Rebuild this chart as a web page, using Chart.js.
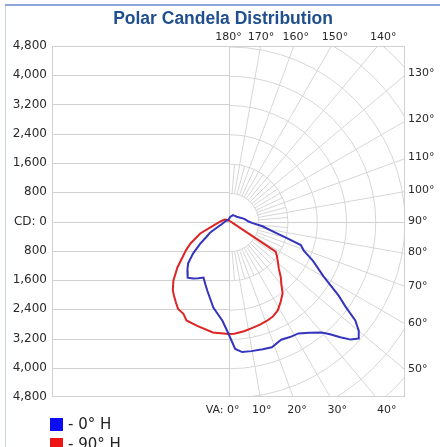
<!DOCTYPE html>
<html>
<head>
<meta charset="utf-8">
<script src="https://cdn.jsdelivr.net/npm/chart.js@4"></script>
<style>
  html, body { margin: 0; padding: 0; background: #fff; }
  #wrap { width: 440px; height: 447px; position: relative; }
</style>
</head>
<body>
<div id="wrap"><canvas id="polarChart"></canvas></div>
<script>
// Polar candela distribution

// vertical angle (0 = straight down, 180 = up) and candela per half plane
// 0° H plane (drawn on the right)
const va0H = [0, 3, 6, 10, 15, 19, 24, 28, 32, 36, 40, 42, 44, 46, 48, 50, 52, 54, 56, 60, 65, 69, 72, 74, 78, 82, 86, 90, 95, 101, 110, 120, 135, 145, 160, 180];
const cd0H = [3070, 3490, 3590, 3600, 3620, 3640, 3540, 3580, 3610, 3760, 3960, 4150, 4400, 4650, 4780, 4650, 4400, 3950, 3640, 3000, 2550, 2200, 2080, 1690, 1180, 940, 660, 550, 480, 420, 320, 260, 225, 215, 130, 40];
// 180° H plane (drawn on the left, same series)
const va180H = [0, 3.5, 10, 17, 20, 24, 28, 32, 36, 40, 44, 48, 52, 55, 59, 63, 70, 80, 100, 130, 180];
const cd180H = [3070, 2720, 2390, 1980, 1840, 1680, 1760, 1835, 1900, 1750, 1590, 1300, 980, 740, 580, 330, 180, 120, 80, 50, 40];
// 90° H plane (right)
const va90H = [0, 3, 8, 12, 17, 21, 25, 29, 33, 37, 40, 43, 47, 51.5, 55, 57.5, 70, 90, 120, 180];
const cd90H = [3080, 3075, 3030, 2990, 2950, 2915, 2870, 2780, 2620, 2460, 2250, 2100, 1880, 1720, 1610, 1530, 130, 60, 30, 10];
// 270° H plane (left, same series)
const va270H = [0, 8, 17, 23, 26, 30, 33, 36, 39, 43, 48, 52, 56, 60, 67, 75, 90, 117, 150, 180];
const cd270H = [3080, 3064, 2979, 2939, 2810, 2760, 2640, 2530, 2420, 2210, 1880, 1600, 1400, 1200, 840, 430, 220, 120, 50, 10];

const seriesNames = ['- 0° H', '- 90° H'];

// candela axis and angle labels
const cdMax = 4800;
const cdStep = 800;
const topAngles = [180, 170, 160, 150, 140];
const sideAngles = [130, 120, 110, 100, 90, 80, 70, 60, 50];
const bottomAngles = [0, 10, 20, 30, 40];

const lineColors = ['#3434bc', '#dd2525'];
const keyColors = ['#0c0cf5', '#ee1414'];
const gridColor = '#d0d0d0';
const polarColor = '#d6d6d6';
const labelColor = '#2a2a2a';
const labelFont = '"DejaVu Sans", Verdana, sans-serif';

// x range a bit wider than y so one candela is the same size both ways
const xMax = 4827;

// turn (left half, right half) into one x/y path, left side mirrored
function toXY(vaLeft, cdLeft, vaRight, cdRight) {
    const pts = [];
    for (let i = vaLeft.length - 1; i >= 0; i--) {
        const a = vaLeft[i] * Math.PI / 180;
        pts.push({ x: -cdLeft[i] * Math.sin(a), y: -cdLeft[i] * Math.cos(a) });
    }
    for (let i = 1; i < vaRight.length; i++) {
        const a = vaRight[i] * Math.PI / 180;
        pts.push({ x: cdRight[i] * Math.sin(a), y: -cdRight[i] * Math.cos(a) });
    }
    return pts;
}

function strokeLine(ctx, x1, y1, x2, y2) {
    ctx.beginPath();
    ctx.moveTo(x1, y1);
    ctx.lineTo(x2, y2);
    ctx.stroke();
}

// outer frame of the panel
const frame = {
    id: 'frame',
    beforeDraw(chart) {
        const ctx = chart.ctx;
        ctx.save();
        ctx.strokeStyle = '#c9d0e0';
        ctx.lineWidth = 1;
        strokeLine(ctx, 5.5, 5, 5.5, chart.height);
        ctx.strokeStyle = '#8fa6da';
        ctx.lineWidth = 2;
        strokeLine(ctx, 5, 5, chart.width, 5);
        ctx.restore();
    }
};

// half polar grid on the right, plain candela lines on the left
const polarGrid = {
    id: 'polarGrid',
    beforeDatasetsDraw(chart) {
        const { ctx, chartArea: a, scales: { x, y } } = chart;
        const cx = Math.round(x.getPixelForValue(0)) + 0.5;
        const cy = Math.round(y.getPixelForValue(0)) + 0.5;
        const k = (y.getPixelForValue(0) - y.getPixelForValue(cdStep)) / cdStep;

        ctx.save();
        ctx.beginPath();
        ctx.rect(a.left, a.top, a.width, a.height);
        ctx.clip();
        ctx.lineWidth = 1;

        ctx.strokeStyle = gridColor;
        y.ticks.forEach(t => {
            const py = Math.round(y.getPixelForValue(t.value)) + 0.5;
            strokeLine(ctx, a.left, py, cx, py);
        });

        ctx.strokeStyle = polarColor;
        for (let r = cdStep; r <= cdStep * 10; r += cdStep) {
            ctx.beginPath();
            ctx.arc(cx, cy, r * k, -Math.PI / 2, Math.PI / 2);
            ctx.stroke();
        }
        const far = 400;
        for (let va = 5; va < 180; va += 5) {
            const rad = va * Math.PI / 180;
            const r0 = cdStep * k;
            const r1 = va % 10 === 0 ? far : cdStep * 2 * k;
            strokeLine(ctx, cx + r0 * Math.sin(rad), cy + r0 * Math.cos(rad),
                cx + r1 * Math.sin(rad), cy + r1 * Math.cos(rad));
        }

        ctx.strokeStyle = gridColor;
        strokeLine(ctx, cx, a.top, cx, a.bottom);
        strokeLine(ctx, cx, cy, a.right, cy);
        ctx.strokeRect(a.left + 0.5, a.top + 0.5, a.width - 1, a.height - 1);
        ctx.restore();
    }
};

// angle labels where the radial lines leave the plot, plus the key
const angleLabels = {
    id: 'angleLabels',
    afterDraw(chart) {
        const { ctx, chartArea: a, scales: { x, y } } = chart;
        const cx = x.getPixelForValue(0);
        const cy = y.getPixelForValue(0);
        const deg = v => v * Math.PI / 180;

        ctx.save();
        ctx.fillStyle = labelColor;
        ctx.font = '11px ' + labelFont;
        ctx.textBaseline = 'middle';

        ctx.textAlign = 'center';
        const yTop = a.top - 9;
        topAngles.forEach(va => {
            ctx.fillText(va + '°', cx + (cy - yTop) * Math.tan(deg(180 - va)), yTop);
        });

        ctx.textAlign = 'left';
        sideAngles.forEach(va => {
            const r = (a.right - cx) / Math.sin(deg(va));
            ctx.fillText(va + '°', a.right + 3, cy + r * Math.cos(deg(va)));
        });

        const yBot = a.bottom + 13;
        bottomAngles.forEach(va => {
            if (va === 0) {
                ctx.textAlign = 'right';
                ctx.fillText('VA: 0°', cx + 11, yBot);
            } else {
                ctx.textAlign = 'center';
                ctx.fillText(va + '°', cx + (yBot - cy) * Math.tan(deg(va)), yBot);
            }
        });

        // key, stacked under the plot
        ctx.font = '15px ' + labelFont;
        ctx.textAlign = 'left';
        chart.data.datasets.forEach((ds, i) => {
            const top = a.bottom + 21 + i * 20;
            ctx.fillStyle = keyColors[i];
            ctx.fillRect(50, top, 13, 13);
            ctx.fillStyle = '#222222';
            ctx.fillText(ds.label, 68, top + 7);
        });
        ctx.restore();
    }
};

new Chart(document.getElementById('polarChart'), {
    type: 'scatter',
    data: {
        datasets: [
            {
                label: seriesNames[0],
                data: toXY(va180H, cd180H, va0H, cd0H),
                borderColor: lineColors[0],
                order: 0
            },
            {
                label: seriesNames[1],
                data: toXY(va270H, cd270H, va90H, cd90H),
                borderColor: lineColors[1],
                order: 1
            }
        ]
    },
    options: {
        responsive: true,
        maintainAspectRatio: false,
        animation: false,
        events: [],
        showLine: true,
        elements: {
            point: { radius: 0 },
            line: { borderWidth: 2, tension: 0, fill: false }
        },
        layout: { padding: { top: 8, left: 8, right: 2, bottom: 0 } },
        plugins: {
            legend: { display: false },
            tooltip: { enabled: false },
            title: {
                display: true,
                text: 'Polar Candela Distribution',
                color: '#1f4f8f',
                font: { family: 'Liberation Sans', size: 17.5, weight: 'bold' },
                padding: { top: 1, bottom: 16 }
            }
        },
        scales: {
            x: {
                type: 'linear',
                min: -xMax,
                max: xMax,
                grid: { display: false },
                border: { display: false },
                ticks: { display: false },
                afterFit(scale) { scale.height = 50; }
            },
            y: {
                type: 'linear',
                position: 'left',
                min: -cdMax,
                max: cdMax,
                grid: { display: false, drawTicks: false },
                border: { display: false },
                ticks: {
                    stepSize: cdStep,
                    padding: 5,
                    color: labelColor,
                    font: { family: 'DejaVu Sans', size: 12 },
                    callback: v => v === 0 ? 'CD: 0' : Math.abs(v).toLocaleString('en-US')
                },
                afterFit(scale) { scale.width = 44; }
            },
            y2: {
                type: 'linear',
                position: 'right',
                min: -cdMax,
                max: cdMax,
                grid: { display: false },
                border: { display: false },
                ticks: { display: false },
                afterFit(scale) { scale.width = 33; }
            }
        }
    },
    plugins: [frame, polarGrid, angleLabels]
});
</script>
</body>
</html>
